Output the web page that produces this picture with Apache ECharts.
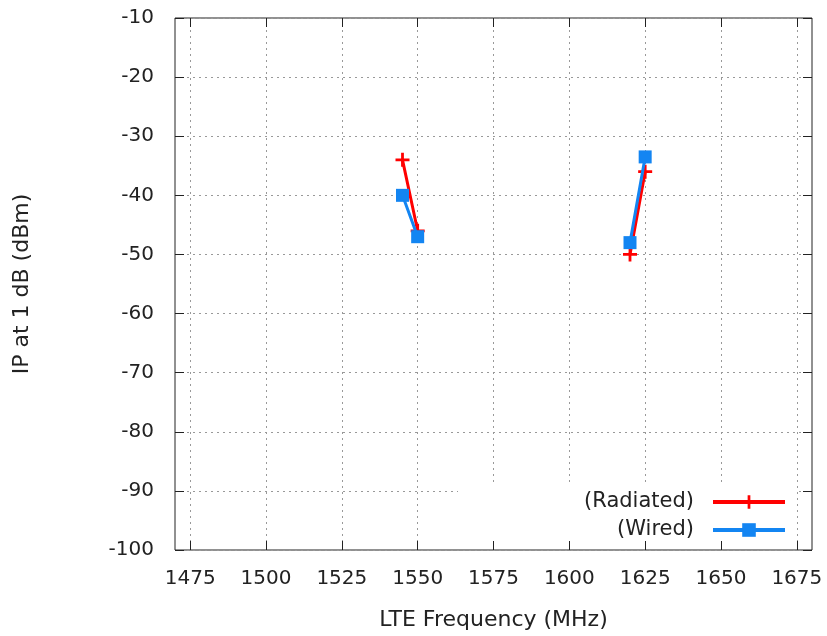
<!DOCTYPE html>
<html>
<head>
<meta charset="utf-8">
<script src="https://cdn.jsdelivr.net/npm/echarts@6/dist/echarts.min.js"></script>
<style>
html,body{margin:0;padding:0;background:#fff;}
#chart{width:827px;height:636px;}
</style>
</head>
<body>
<div id="chart"></div>
<script>
// Data
const freqs = [1545, 1550, 1620, 1625];
const band = [1, 1, 2, 2];            // measurement band (line breaks between bands)
const radiated = [-34, -46, -50, -36];
const wired = [-40, -47, -48, -33.5];
const xTicks = [1475, 1500, 1525, 1550, 1575, 1600, 1625, 1650, 1675];
const yTicks = [-100, -90, -80, -70, -60, -50, -40, -30, -20, -10];

function build(vals) {
  const out = [];
  for (let i = 0; i < freqs.length; i++) {
    if (i > 0 && band[i] !== band[i - 1]) out.push(['-', '-']);
    out.push([freqs[i], vals[i]]);
  }
  return out;
}

const FONT = 'DejaVu Sans';
const TXT = '#222';
const gridLine = { show: true, lineStyle: { color: '#999', type: [2, 4], width: 1 } };
const tick = { show: true, inside: true, length: 9, lineStyle: { color: '#222', width: 1 } };

const plus = 'path://M4,0H6V4H10V6H6V10H4V6H0V4H4Z';

const chart = echarts.init(document.getElementById('chart'), null, { renderer: 'canvas' });
chart.setOption({
  animation: false,
  backgroundColor: '#fff',
  grid: { left: 175, right: 15, top: 18, bottom: 85, show: true, borderColor: '#222', borderWidth: 1, backgroundColor: 'transparent' },
  xAxis: [{
    type: 'value', min: 1470, max: 1680,
    name: 'LTE Frequency (MHz)', nameLocation: 'middle', nameGap: 59,
    nameTextStyle: { fontFamily: FONT, fontSize: 22, color: TXT },
    axisLine: { show: false },
    axisTick: Object.assign({ customValues: xTicks }, tick),
    axisLabel: { customValues: xTicks, fontFamily: FONT, fontSize: 20, color: TXT, margin: 19, formatter: v => String(v) },
    splitLine: gridLine
  }, {
    type: 'value', min: 1470, max: 1680, position: 'top',
    axisLine: { show: false },
    axisTick: Object.assign({ customValues: xTicks }, tick),
    axisLabel: { show: false, customValues: xTicks },
    splitLine: { show: false }
  }],
  yAxis: [{
    type: 'value', min: yTicks[0], max: yTicks[yTicks.length - 1], interval: 10,
    name: 'IP at 1 dB (dBm)', nameLocation: 'middle', nameGap: 142,
    nameTextStyle: { fontFamily: FONT, fontSize: 22, color: TXT },
    axisLine: { show: false },
    axisTick: tick,
    axisLabel: { fontFamily: FONT, fontSize: 20, color: TXT, margin: 21 },
    splitLine: gridLine
  }, {
    type: 'value', min: yTicks[0], max: yTicks[yTicks.length - 1], interval: 10, position: 'right',
    axisLine: { show: false },
    axisTick: tick,
    axisLabel: { show: false },
    splitLine: { show: false }
  }],
  graphic: [{
    type: 'rect', z: 1,
    shape: { x: 458, y: 483, width: 338, height: 58 },
    style: { fill: '#fff' }
  }],
  legend: {
    orient: 'vertical', align: 'right', right: 40, top: 491, padding: 0,
    itemWidth: 72, itemHeight: 17, itemGap: 6,
    lineStyle: { width: 4 },
    textStyle: { fontFamily: FONT, fontSize: 21, color: TXT, lineHeight: 22, padding: [0, 14, 0, 0] },
    data: ['(Radiated)', '(Wired)']
  },
  series: [{
    name: '(Radiated)', type: 'line', z: 3,
    data: build(radiated),
    symbol: plus, symbolSize: 14, showAllSymbol: true,
    lineStyle: { color: '#ff0000', width: 3 },
    itemStyle: { color: '#ff0000' }
  }, {
    name: '(Wired)', type: 'line', z: 4,
    data: build(wired),
    symbol: 'rect', symbolSize: 13, showAllSymbol: true,
    lineStyle: { color: '#1385f2', width: 3 },
    itemStyle: { color: '#1385f2' }
  }]
});
</script>
</body>
</html>
